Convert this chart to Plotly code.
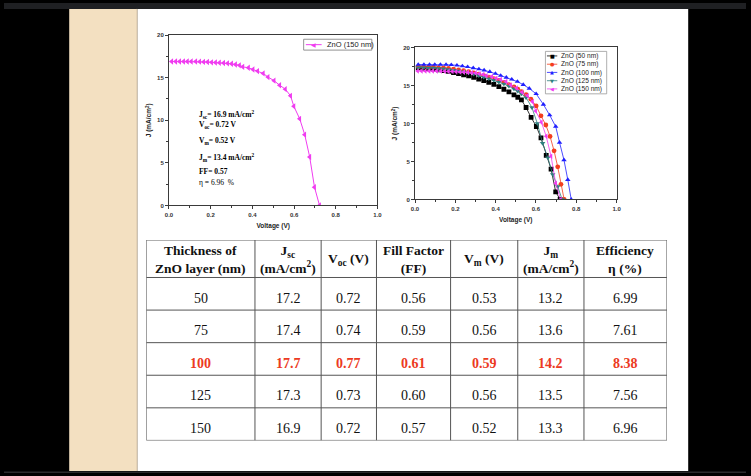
import plotly.graph_objects as go
from itertools import accumulate

W, H = 751, 476

# ---------------- I-V data (Voltage in V, J in mA/cm^2) ----------------
v_150 = [0.013, 0.032, 0.051, 0.070, 0.088, 0.107, 0.128, 0.147, 0.166, 0.185,
         0.204, 0.223, 0.242, 0.262, 0.281, 0.300, 0.319, 0.338,
         0.354, 0.381, 0.403, 0.425, 0.452, 0.475, 0.504, 0.531, 0.558, 0.583,
         0.599, 0.627, 0.651, 0.675, 0.698, 0.722]
j_150 = [16.9, 16.9, 16.9, 16.9, 16.9, 16.9, 16.9, 16.88, 16.85, 16.84,
         16.8, 16.78, 16.75, 16.72, 16.68, 16.63, 16.55, 16.45,
         16.27, 16.16, 15.96, 15.77, 15.50, 15.07, 14.65, 14.11, 13.65, 12.87,
         11.63, 10.17, 8.31, 5.68, 2.13, 0.0]

v_50 = [0.016, 0.041, 0.066, 0.091, 0.116, 0.141, 0.166, 0.191, 0.216, 0.241,
        0.266, 0.291, 0.316, 0.341, 0.366, 0.391, 0.416, 0.441, 0.466, 0.491,
        0.51, 0.528, 0.551, 0.576, 0.602, 0.625, 0.651, 0.675, 0.698, 0.72]
j_50 = [17.3, 17.25, 17.2, 17.15, 17.05, 16.95, 16.85, 16.7, 16.55, 16.4,
        16.25, 16.05, 15.85, 15.65, 15.4, 15.15, 14.85, 14.5, 14.15, 13.75,
        13.45, 13.1, 12.1, 10.8, 9.6, 8.1, 5.8, 4.0, 1.0, 0.0]

v_75 = [0.016, 0.041, 0.066, 0.091, 0.116, 0.141, 0.166, 0.191, 0.216, 0.241,
        0.266, 0.291, 0.316, 0.341, 0.366, 0.391, 0.416, 0.441, 0.466, 0.491,
        0.51, 0.528, 0.551, 0.575, 0.601, 0.625, 0.649, 0.670, 0.690, 0.708,
        0.724, 0.740]
j_75 = [17.45, 17.45, 17.4, 17.4, 17.35, 17.3, 17.25, 17.15, 17.05, 16.95,
        16.8, 16.65, 16.5, 16.3, 16.1, 15.9, 15.65, 15.4, 15.1, 14.8,
        14.5, 14.2, 13.8, 13.2, 12.3, 11.0, 9.8, 8.3, 6.4, 4.3,
        2.0, 0.0]

v_100 = [0.016, 0.044, 0.072, 0.098, 0.126, 0.154, 0.180, 0.208, 0.235, 0.261,
         0.289, 0.317, 0.343, 0.371, 0.399, 0.425, 0.453, 0.480, 0.508, 0.537,
         0.567, 0.601, 0.637, 0.668, 0.698, 0.717, 0.739, 0.758, 0.775]
j_100 = [17.75, 17.75, 17.75, 17.75, 17.75, 17.75, 17.7, 17.65, 17.55, 17.45,
         17.3, 17.15, 17.0, 16.8, 16.55, 16.3, 16.05, 15.8, 15.5, 15.1,
         14.6, 13.9, 12.5, 11.1, 9.6, 7.5, 5.2, 2.6, 0.0]

v_125 = [0.016, 0.041, 0.066, 0.091, 0.116, 0.141, 0.166, 0.191, 0.216, 0.241,
         0.266, 0.291, 0.316, 0.341, 0.366, 0.391, 0.416, 0.441, 0.466, 0.491,
         0.51, 0.528, 0.551, 0.58, 0.607, 0.633, 0.659, 0.683, 0.708, 0.73]
j_125 = [17.35, 17.35, 17.3, 17.3, 17.25, 17.2, 17.1, 17.0, 16.9, 16.8,
         16.65, 16.5, 16.3, 16.1, 15.9, 15.7, 15.45, 15.2, 14.9, 14.55,
         14.25, 13.9, 13.4, 12.1, 10.0, 7.4, 5.5, 3.3, 1.7, 0.0]

series_names = ["ZnO (50 nm)", "ZnO (75 nm)", "ZnO (100 nm)", "ZnO (125 nm)", "ZnO (150 nm)"]
series_v = [v_50, v_75, v_100, v_125, v_150]
series_j = [j_50, j_75, j_100, j_125, j_150]

x_ticks = [0.0, 0.2, 0.4, 0.6, 0.8, 1.0]
y_ticks = [0, 5, 10, 15, 20]

summary_lines = ["<b>J<sub>sc</sub>= 16.9 mA/cm<sup>2</sup></b>", "<b>V<sub>oc</sub>= 0.72 V</b>",
                 "<b>V<sub>m</sub>= 0.52 V</b>", "<b>J<sub>m</sub>= 13.4 mA/cm<sup>2</sup></b>",
                 "<b>FF= 0.57</b>", "η = 6.96  %"]

# ---------------- table data ----------------
table_header = ["<b>Thickness of<br>ZnO layer (nm)</b>", "<b>J<sub>sc</sub><br>(mA/cm<sup>2</sup>)</b>",
                "<b>V<sub>oc</sub> (V)</b>", "<b>Fill Factor<br>(FF)</b>", "<b>V<sub>m</sub> (V)</b>",
                "<b>J<sub>m</sub><br>(mA/cm<sup>2</sup>)</b>", "<b>Efficiency<br>η (%)</b>"]
thickness = ["50", "75", "100", "125", "150"]
jsc = ["17.2", "17.4", "17.7", "17.3", "16.9"]
voc = ["0.72", "0.74", "0.77", "0.73", "0.72"]
fill_factor = ["0.56", "0.59", "0.61", "0.60", "0.57"]
vm = ["0.53", "0.56", "0.59", "0.56", "0.52"]
jm = ["13.2", "13.6", "14.2", "13.5", "13.3"]
efficiency = ["6.99", "7.61", "8.38", "7.56", "6.96"]
table_columns = [thickness, jsc, voc, fill_factor, vm, jm, efficiency]
best_row = "100"

# ---------------- styles / layout constants ----------------
colors = ["#000000", "#F43E1E", "#1F1FFF", "#2E7F7F", "#F03CF0"]
symbols = ["square", "circle", "triangle-up", "triangle-down", "triangle-left"]
glyphs = ["■", "●", "▲", "▼", "◀"]
AX = "#3a3a3a"
TBL_LINE = "#555555"
RED = "#EC3A22"

def px(x):
    return x / W

def py(y):
    return 1 - y / H

fig = go.Figure()

# left chart: single curve
fig.add_trace(go.Scatter(x=v_150, y=j_150, mode="lines+markers", name="ZnO (150 nm)",
                         line=dict(color=colors[4], width=1),
                         marker=dict(symbol=symbols[4], size=5.5, color=colors[4]),
                         xaxis="x", yaxis="y", showlegend=False))
# right chart: all curves
for name, v, j, c, s in zip(series_names, series_v, series_j, colors, symbols):
    fig.add_trace(go.Scatter(x=v, y=j, mode="lines+markers", name=name,
                             line=dict(color=c, width=0.8),
                             marker=dict(symbol=s, size=4.8, color=c),
                             xaxis="x2", yaxis="y2", showlegend=False))

tickfont = dict(family="Liberation Sans", size=6, color="#333", weight="bold")
titlefont = dict(family="Liberation Sans", size=6.5, color="#222", weight="bold")

def xstyle(domain, anchor):
    return dict(domain=domain, anchor=anchor, range=[0, 1], tickvals=x_ticks, tickformat=".1f",
                showgrid=False, zeroline=False, showline=True, linecolor=AX, linewidth=1, mirror=True,
                ticks="outside", ticklen=3, tickcolor=AX, tickfont=tickfont,
                minor=dict(dtick=0.1, tick0=0, ticks="outside", ticklen=2, tickcolor=AX),
                title=dict(text="Voltage (V)", font=titlefont, standoff=6))

def ystyle(domain, anchor):
    return dict(domain=domain, anchor=anchor, range=[0, 20], tickvals=y_ticks,
                showgrid=False, zeroline=False, showline=True, linecolor=AX, linewidth=1, mirror=True,
                ticks="outside", ticklen=3, tickcolor=AX, tickfont=tickfont,
                minor=dict(dtick=2.5, tick0=0, ticks="outside", ticklen=2, tickcolor=AX),
                title=dict(text="J (mA/cm<sup>2</sup>)", font=titlefont, standoff=4))

col_widths = [110, 67, 56, 75, 68, 67, 84]
row_heights = [38, 33, 33, 33, 33, 33]
col_edges = [0] + list(accumulate(col_widths))
row_edges = [0] + list(accumulate(row_heights))

fig.update_layout(
    width=W, height=H, margin=dict(l=0, r=0, t=0, b=0),
    paper_bgcolor="#000000", plot_bgcolor="#ffffff",
    showlegend=False,
    xaxis=xstyle([px(167), px(378)], "y"),
    yaxis=ystyle([py(205), py(32.5)], "x"),
    xaxis2=xstyle([px(416), px(620)], "y2"),
    yaxis2=ystyle([py(199), py(45)], "x2"),
    xaxis3=dict(domain=[px(144), px(671)], anchor="y3", range=[0, col_edges[-1]], visible=False),
    yaxis3=dict(domain=[py(443), py(240)], anchor="x3", range=[row_edges[-1], 0], visible=False),
)

shapes = []
# slide background
shapes.append(dict(type="rect", xref="paper", yref="paper", x0=0, x1=1, y0=py(6), y1=1,
                   fillcolor="#1f2023", line_width=0, layer="below"))
shapes.append(dict(type="rect", xref="paper", yref="paper", x0=px(66), x1=px(135), y0=py(474), y1=py(6),
                   fillcolor="#F3E0C1", line_width=0, layer="below"))
shapes.append(dict(type="rect", xref="paper", yref="paper", x0=px(135), x1=px(692.5), y0=py(474), y1=py(6),
                   fillcolor="#ffffff", line_width=0, layer="below"))
shapes.append(dict(type="line", xref="paper", yref="paper", x0=px(134.5), x1=px(134.5), y0=py(474), y1=py(6),
                   line=dict(color="#DCCBAE", width=1), layer="below"))
shapes.append(dict(type="rect", xref="paper", yref="paper", x0=0, x1=1, y0=0, y1=py(474.5),
                   fillcolor="#2a2a2c", line_width=0, layer="below"))

# table grid
for xe in col_edges:
    shapes.append(dict(type="line", xref="x3", yref="y3", x0=xe, x1=xe, y0=0, y1=row_edges[-1],
                       line=dict(color=TBL_LINE, width=1)))
for ye in row_edges:
    shapes.append(dict(type="line", xref="x3", yref="y3", x0=0, x1=col_edges[-1], y0=ye, y1=ye,
                       line=dict(color=TBL_LINE, width=1)))

# manual legends
shapes.append(dict(type="rect", xref="paper", yref="paper", x0=px(303.3), x1=px(372.3), y0=py(47.7), y1=py(36.7),
                   line=dict(color="#777", width=0.8), fillcolor="#ffffff"))
shapes.append(dict(type="line", xref="paper", yref="paper", x0=px(305.5), x1=px(321.5), y0=py(42.2), y1=py(42.2),
                   line=dict(color=colors[4], width=1)))
shapes.append(dict(type="rect", xref="paper", yref="paper", x0=px(548), x1=px(610), y0=py(92), y1=py(49),
                   line=dict(color="#999", width=0.8), fillcolor="#ffffff"))
leg_rows = [53.6, 62.0, 70.3, 78.7, 87.0]
for c, yy in zip(colors, leg_rows):
    shapes.append(dict(type="line", xref="paper", yref="paper", x0=px(549.5), x1=px(560), y0=py(yy), y1=py(yy),
                       line=dict(color=c, width=0.8)))

annotations = []
annotations.append(dict(xref="paper", yref="paper", x=px(313.5), y=py(42.2), text=glyphs[4], showarrow=False,
                        xanchor="center", yanchor="middle",
                        font=dict(family="DejaVu Sans", size=6, color=colors[4])))
annotations.append(dict(xref="paper", yref="paper", x=px(324.5), y=py(42.4), text="ZnO (150 nm)", showarrow=False,
                        xanchor="left", yanchor="middle",
                        font=dict(family="Liberation Sans", size=7.5, color="#222")))
for name, c, g, yy in zip(series_names, colors, glyphs, leg_rows):
    annotations.append(dict(xref="paper", yref="paper", x=px(554.8), y=py(yy), text=g, showarrow=False,
                            xanchor="center", yanchor="middle",
                            font=dict(family="DejaVu Sans", size=5, color=c)))
    annotations.append(dict(xref="paper", yref="paper", x=px(561.5), y=py(yy + 0.2), text=name, showarrow=False,
                            xanchor="left", yanchor="middle",
                            font=dict(family="Liberation Sans", size=6.6, color="#222")))

# summary text on the left chart
summary_y = [10.67, 9.39, 7.54, 5.6, 3.98, 2.7]
for t, yy in zip(summary_lines, summary_y):
    annotations.append(dict(xref="x", yref="y", x=0.133, y=yy, text=t, showarrow=False,
                            xanchor="left", yanchor="middle",
                            font=dict(family="Liberation Serif", size=7.5, color="#000000")))

# table text
for k, head in enumerate(table_header):
    annotations.append(dict(xref="x3", yref="y3", x=(col_edges[k] + col_edges[k + 1]) / 2,
                            y=row_heights[0] / 2 + 1, text=head, showarrow=False,
                            xanchor="center", yanchor="middle",
                            font=dict(family="Liberation Serif", size=13.5, color="#111")))
for i in range(len(thickness)):
    hi = thickness[i] == best_row
    yc = (row_edges[i + 1] + row_edges[i + 2]) / 2 + 4.5
    for k, col in enumerate(table_columns):
        txt = f"<b>{col[i]}</b>" if hi else col[i]
        annotations.append(dict(xref="x3", yref="y3", x=(col_edges[k] + col_edges[k + 1]) / 2, y=yc,
                                text=txt, showarrow=False, xanchor="center", yanchor="middle",
                                font=dict(family="Liberation Serif", size=14, color=RED if hi else "#111")))

fig.update_layout(shapes=shapes, annotations=annotations)
fig.write_html("out.html", config={"displayModeBar": False},
               post_script="document.body.style.margin='0';document.documentElement.style.overflow='hidden';"
                           "document.body.style.overflow='hidden';")
